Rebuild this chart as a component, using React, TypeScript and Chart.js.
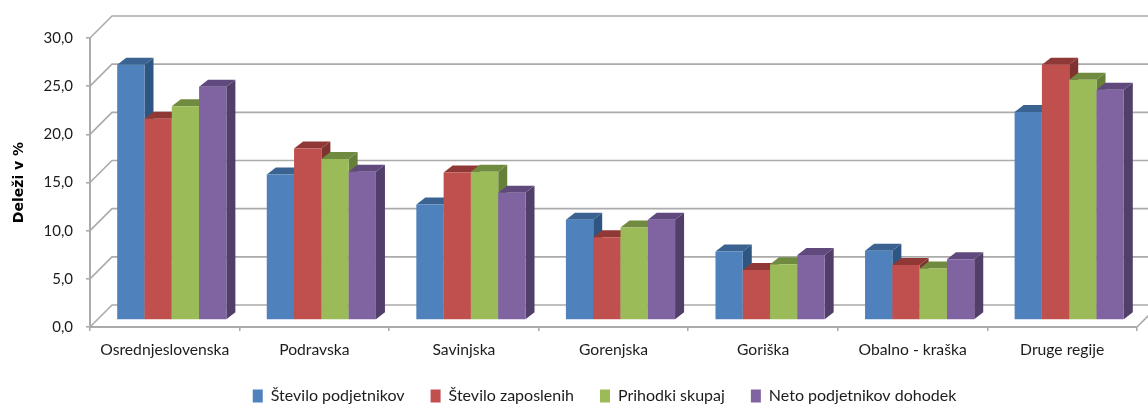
import React, { useEffect, useRef } from "react";
import { Chart, registerables } from "chart.js";

Chart.register(...registerables);

const categories = ["Osrednjeslovenska", "Podravska", "Savinjska", "Gorenjska", "Goriška", "Obalno - kraška", "Druge regije"];
const steviloPodjetnikov = [26.5, 15.1, 12.0, 10.4, 7.1, 7.2, 21.6];
const steviloZaposlenih = [20.9, 17.8, 15.3, 8.6, 5.2, 5.7, 26.5];
const prihodkiSkupaj = [22.2, 16.7, 15.4, 9.6, 5.8, 5.35, 24.95];
const netoDohodek = [24.2, 15.4, 13.2, 10.4, 6.75, 6.3, 23.9];
const seriesNames = ["Število podjetnikov", "Število zaposlenih", "Prihodki skupaj", "Neto podjetnikov dohodek"];
const seriesValues = [steviloPodjetnikov, steviloZaposlenih, prihodkiSkupaj, netoDohodek];
const frontColors = ["#4F81BD", "#C0504D", "#9BBB59", "#8064A2"];
const topColors = ["#3A6391", "#8F3835", "#708A3F", "#60497D"];
const sideColors = ["#2F5682", "#7F3331", "#667F39", "#513E69"];

const FONT = "Lato, 'Open Sans', sans-serif";
const WALL = 22;
const BAR_OFFSET = 7;
const DEPTH_X = 9;
const DEPTH_Y = 7;
const GRID = "#ABABAB";
const LEGEND_SHIFT = 36;
const LEGEND_TOP = 362;

const poly = (ctx: CanvasRenderingContext2D, pts: number[][], fill: string) => {
  ctx.beginPath();
  pts.forEach((p, i) => (i ? ctx.lineTo(p[0], p[1]) : ctx.moveTo(p[0], p[1])));
  ctx.closePath();
  ctx.fillStyle = fill;
  ctx.fill();
};

const depthPlugin = {
  id: "depth3d",
  afterLayout(chart: any) {
    const lg = chart.legend;
    lg.left += LEGEND_SHIFT;
    lg.right += LEGEND_SHIFT;
    lg.top = LEGEND_TOP;
  },
  beforeDatasetsDraw(chart: any) {
    const { ctx, chartArea, scales } = chart;
    const { left, right, bottom } = chartArea;
    ctx.save();
    ctx.strokeStyle = GRID;
    ctx.lineWidth = 1.6;
    scales.y.ticks.forEach((t: any) => {
      const y = scales.y.getPixelForValue(t.value);
      ctx.beginPath();
      ctx.moveTo(left, y);
      ctx.lineTo(left + WALL, y - WALL);
      ctx.lineTo(right + WALL, y - WALL);
      ctx.stroke();
    });
    ctx.beginPath();
    ctx.moveTo(right, bottom);
    ctx.lineTo(right + WALL, bottom - WALL);
    ctx.stroke();
    ctx.restore();

    ctx.save();
    ctx.translate(BAR_OFFSET, -BAR_OFFSET);
    seriesValues.forEach((_, i) => {
      const meta = chart.getDatasetMeta(i);
      meta.data.forEach((el: any) => {
        const l = el.x - el.width / 2;
        const r = el.x + el.width / 2;
        const t = el.y;
        const b = el.base;
        poly(ctx, [[r, t], [r + DEPTH_X, t - DEPTH_Y], [r + DEPTH_X, b - DEPTH_Y], [r, b]], sideColors[i]);
        poly(ctx, [[l, t], [l + DEPTH_X, t - DEPTH_Y], [r + DEPTH_X, t - DEPTH_Y], [r, t]], topColors[i]);
        el.draw(ctx);
      });
    });
    ctx.restore();
    return false;
  },
};

export default function App() {
  const ref = useRef<HTMLCanvasElement>(null);
  useEffect(() => {
    const chart = new Chart(ref.current as HTMLCanvasElement, {
      type: "bar",
      data: {
        labels: categories,
        datasets: seriesValues.map((data, i) => ({
          label: seriesNames[i],
          data,
          backgroundColor: frontColors[i],
          borderWidth: 0,
          barPercentage: 1,
          categoryPercentage: 0.73,
        })),
      },
      options: {
        responsive: false,
        animation: false,
        devicePixelRatio: 1,
        layout: { padding: { top: 38, right: 11, left: 0, bottom: 0 } },
        plugins: {
          tooltip: { enabled: false },
          title: { display: false },
          legend: {
            position: "bottom",
            labels: {
              boxWidth: 10,
              boxHeight: 13,
              padding: 26,
              color: "#1c1c1c",
              font: { family: FONT, size: 16 },
            },
          },
        },
        scales: {
          x: {
            afterFit(s: any) { s.height = 36; },
            grid: { drawOnChartArea: false, color: GRID, lineWidth: 1.6, tickLength: 4 },
            border: { color: GRID, width: 2 },
            ticks: { color: "#1c1c1c", padding: 10, maxRotation: 0, font: { family: FONT, size: 15.7 } },
          },
          y: {
            min: 0,
            max: 30,
            afterFit(s: any) { s.width = 90; },
            title: {
              display: true,
              text: "Deleži v %",
              color: "#000",
              padding: { top: 11, bottom: 0 },
              font: { family: "'DejaVu Sans'", size: 14, weight: "bold" },
            },
            grid: { drawOnChartArea: false, color: GRID, lineWidth: 1.6, tickLength: 4 },
            border: { color: GRID, width: 2 },
            ticks: {
              stepSize: 5,
              color: "#1c1c1c",
              padding: 13,
              font: { family: FONT, size: 15 },
              callback: (v: any) => Number(v).toFixed(1).replace(".", ","),
            },
          },
        },
      },
      plugins: [depthPlugin],
    } as any);
    return () => chart.destroy();
  }, []);
  return (
    <div style={{ position: "absolute", left: 0, top: 0, width: 1148, height: 405, overflow: "hidden" }}>
      <canvas ref={ref} width={1148} height={415} style={{ display: "block", filter: "blur(0.35px)" }} />
    </div>
  );
}
